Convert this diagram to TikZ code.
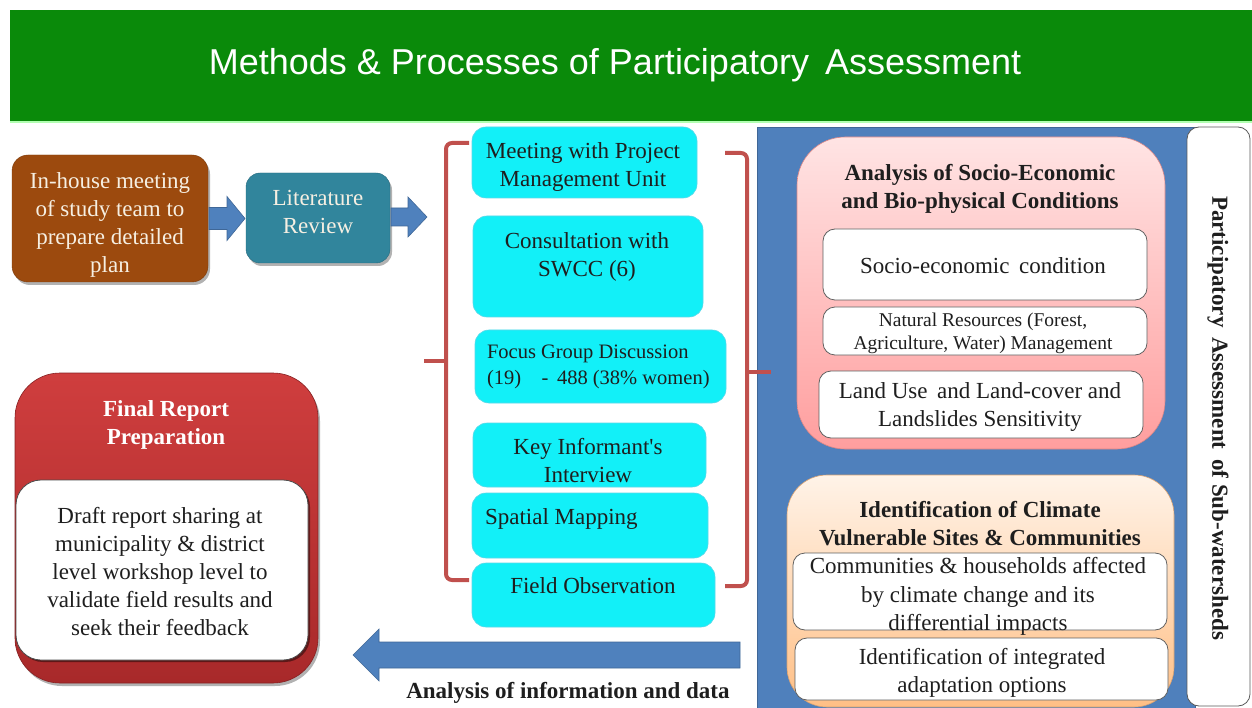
\documentclass[tikz,border=0pt]{standalone}
\usepackage{fontspec}
\setmainfont{Liberation Serif}
\newfontfamily\bannerfont{Liberation Sans}
\usetikzlibrary{shadows,calc}

\definecolor{bannergreen}{HTML}{0A8A0A}
\definecolor{brownbox}{HTML}{9C4A0E}
\definecolor{creamtext}{HTML}{F6EFE2}
\definecolor{tealbox}{HTML}{31859C}
\definecolor{arrowblue}{HTML}{4F81BD}
\definecolor{bracketred}{HTML}{C0504D}
\definecolor{cyanfill}{HTML}{12F0F8}
\definecolor{cyanedge}{HTML}{5AD8E8}
\definecolor{panelblue}{HTML}{4F80BC}
\definecolor{pinktop}{HTML}{FFE4E4}
\definecolor{pinkbot}{HTML}{FF9E9E}
\definecolor{orangetop}{HTML}{FFF3E8}
\definecolor{orangebot}{HTML}{FFBF85}
\definecolor{reporttop}{HTML}{CF3E3E}
\definecolor{reportbot}{HTML}{A8292A}
\definecolor{inktext}{HTML}{1E1E1E}

\begin{document}
\begin{tikzpicture}[x=1pt,y=-1pt,
  every node/.style={inner sep=0pt, outer sep=0pt},
  txt/.style={font=\fontsize{23}{28}\selectfont, align=center, text=inktext},
  smalltxt/.style={font=\fontsize{19.5}{23}\selectfont, align=center, text=inktext},
  headtxt/.style={font=\fontsize{23}{28}\selectfont\bfseries, align=center, text=inktext},
  cyanbox/.style={draw=cyanedge, fill=cyanfill, rounded corners=14pt, line width=0.6pt},
  whitebox/.style={draw=gray!75!black, fill=white, rounded corners=12pt, line width=0.8pt},
  bracket/.style={draw=bracketred, line width=4pt, rounded corners=6pt},
  blockarrow/.style={fill=arrowblue, draw=arrowblue!80!black, line width=0.6pt},
  softshadow/.style={drop shadow={shadow xshift=2pt, shadow yshift=-3pt, opacity=0.3, fill=black}}
]
\useasboundingbox (0,0) rectangle (1252,708);
\fill[white] (0,0) rectangle (1252,708);

% title banner
\node[fill=bannergreen, minimum width=1242pt, minimum height=112pt] (banner) at (631,66) {};
\draw[green!30!white, line width=1.2pt] (banner.south west) -- (banner.south east);
\node[font=\bannerfont\fontsize{36}{40}\selectfont, text=white] (title) at (615,65)
  {Methods \& Processes of Participatory\, Assessment};

% preparation steps
\node[fill=brownbox, draw=brownbox!80!black, rounded corners=16pt, softshadow,
      minimum width=196pt, minimum height=127pt] (plan) at (110,218.5) {};
\node[txt, text=creamtext] (plantext) at (110,224.5)
  {In-house meeting\\of study team to\\prepare detailed\\plan};
\node[fill=tealbox, draw=tealbox!80!black, rounded corners=14pt, softshadow,
      minimum width=144pt, minimum height=90pt] (lit) at (318,218) {};
\node[txt, text=creamtext] (littext) at (318,212) {Literature\\Review};

\fill[blockarrow] ($(plan.east)+(1,0)$) ++(0,-11) -- ++(18,0) -- ++(0,-11) -- ++(18,22)
  -- ++(-18,22) -- ++(0,-11) -- ++(-18,0) -- cycle;
\fill[blockarrow] ($(lit.east)+(1,0)$) ++(0,-10) -- ++(17,0) -- ++(0,-11) -- ++(19,20)
  -- ++(-19,20) -- ++(0,-11) -- ++(-17,0) -- cycle;

% analysis panel
\node[fill=panelblue, draw=panelblue!80!black, line width=0.6pt,
      minimum width=438pt, minimum height=581pt] (panel) at (976,417.5) {};
\node[fill=white, draw=gray!70!black, rounded corners=12pt, line width=0.8pt,
      minimum width=63pt, minimum height=579pt] (side) at (1218.5,416.5) {};
\node[headtxt, rotate=-90] (sidetext) at (1218,418)
  {Participatory\, Assessment\, of Sub-watersheds};

\node[top color=pinktop, bottom color=pinkbot, draw=pinkbot!85!black, line width=0.6pt,
      rounded corners=48pt, minimum width=368pt, minimum height=312pt] (socio) at (981,293) {};
\node[headtxt] (sociohead) at (980,189) {Analysis of Socio-Economic\\and Bio-physical Conditions};
\node[whitebox, minimum width=324pt, minimum height=71pt] (w1) at (985,264.5) {};
\node[txt] (w1t) at (983,266) {Socio-economic\, condition};
\node[whitebox, minimum width=324pt, minimum height=48pt] (w2) at (985,331) {};
\node[smalltxt] (w2t) at (983,333.5) {Natural Resources (Forest,\\Agriculture, Water) Management};
\node[whitebox, minimum width=324pt, minimum height=67pt] (w3) at (981,404.5) {};
\node[txt] (w3t) at (980,407) {Land Use\, and Land-cover and\\Landslides Sensitivity};

\node[top color=orangetop, bottom color=orangebot, draw=orangebot!85!black, line width=0.6pt,
      rounded corners=40pt, minimum width=387pt, minimum height=232pt] (climate) at (980.5,591) {};
\node[headtxt] (climhead) at (980,524) {Identification of Climate\\Vulnerable Sites \& Communities};
\node[whitebox, minimum width=374pt, minimum height=77pt] (w4) at (980,591.5) {};
\node[txt, font=\fontsize{23}{28.5}\selectfont] (w4t) at (978,596.5)
  {Communities \& households affected\\by climate change and its\\differential impacts};
\node[whitebox, minimum width=373pt, minimum height=62pt] (w5) at (981.5,669) {};
\node[txt] (w5t) at (982,673) {Identification of integrated\\adaptation options};

% final report
\node[top color=reporttop, bottom color=reportbot, draw=reportbot!80!black, line width=0.6pt,
      rounded corners=45pt, softshadow, minimum width=303pt, minimum height=310pt] (report) at (166.5,528) {};
\node[headtxt, text=white] (reporthead) at (166,425) {Final Report\\Preparation};
\node[fill=white, draw=black!70, line width=0.8pt, rounded corners=25pt,
      drop shadow={shadow xshift=2pt, shadow yshift=-2pt, opacity=0.45, fill=black},
      minimum width=292pt, minimum height=180pt] (draft) at (162,570) {};
\node[txt] (drafttext) at (160,572)
  {Draft report sharing at\\municipality \& district\\level workshop level to\\validate field results and\\seek their feedback};

% field methods
\node[cyanbox, minimum width=225pt, minimum height=71pt] (c1) at (584.5,162.5) {};
\node[txt] (c1t) at (583,167) {Meeting with Project\\Management Unit};
\node[cyanbox, minimum width=230pt, minimum height=101pt] (c2) at (588,266.5) {};
\node[txt] (c2t) at (587,257) {Consultation with\\SWCC (6)};
\node[cyanbox, minimum width=251pt, minimum height=73pt] (c3) at (600.5,366.5) {};
\node[smalltxt, font=\fontsize{20.5}{26}\selectfont, align=left, anchor=west] (c3t) at (487,367)
  {Focus Group Discussion\\(19)\quad-\, 488 (38\% women)};
\node[cyanbox, minimum width=233pt, minimum height=64pt] (c4) at (589.5,455) {};
\node[txt] (c4t) at (588,461) {Key Informant\textquotesingle s\\Interview};
\node[cyanbox, minimum width=236pt, minimum height=65pt] (c5) at (590,525.5) {};
\node[txt, anchor=west] (c5t) at (485,519) {Spatial Mapping};
\node[cyanbox, minimum width=243pt, minimum height=64pt] (c6) at (593.5,595) {};
\node[txt] (c6t) at (593,586) {Field Observation};

% brackets grouping the field methods
\draw[bracket] (469,143) -- (446,143) -- (446,580) -- (469,580);
\draw[bracket] (446,361) -- (424,361);
\draw[bracket] (725,153) -- (747,153) -- (747,586) -- (725,586);
\draw[bracket] (747,372) -- (771,372);

% analysis arrow back to reporting
\fill[blockarrow] (740,642) -- (379,642) -- (379,629) -- (353,655) -- (379,681)
  -- (379,668) -- (740,668) -- cycle;
\node[headtxt] (flowlabel) at (568,693) {Analysis of information and data};
\end{tikzpicture}
\end{document}
